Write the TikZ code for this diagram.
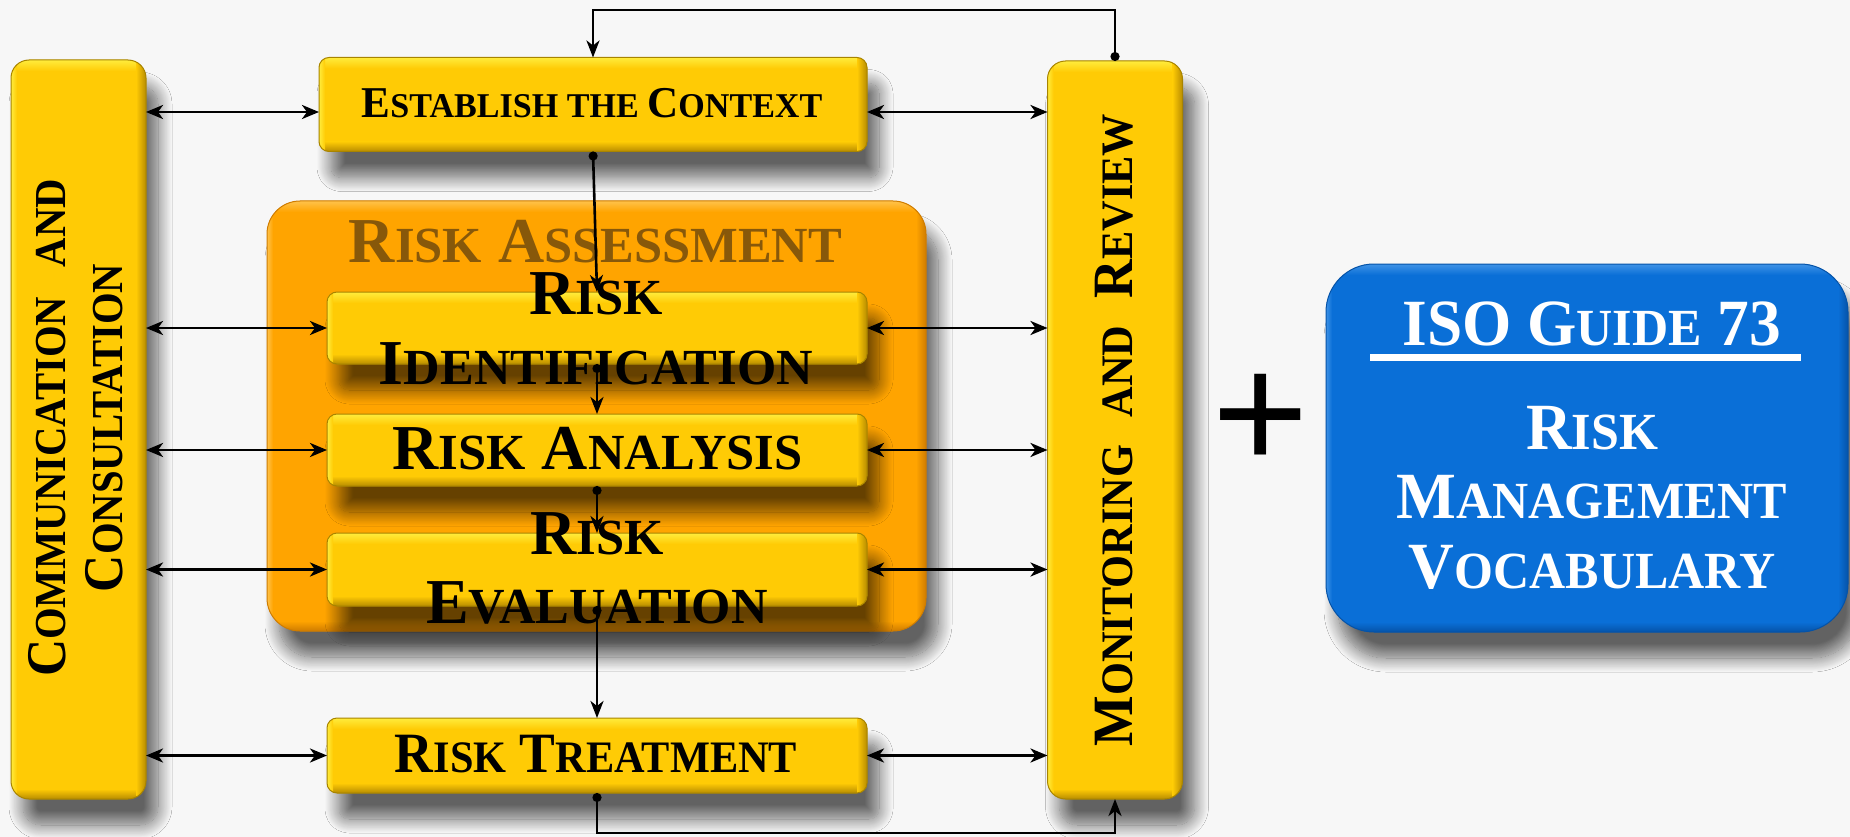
\documentclass[tikz,border=0pt]{standalone}
\usepackage{fontspec}
\setmainfont{Liberation Serif}
\newfontfamily\plusfont{Liberation Sans}
\usepackage{graphicx}
\usetikzlibrary{arrows.meta,calc,shadows.blur}
\definecolor{bgc}{HTML}{F7F7F7}
\definecolor{gold}{HTML}{FFCB05}
\definecolor{goldhi}{HTML}{FFEC3C}
\definecolor{golddk}{HTML}{B88C00}
\definecolor{goldln}{HTML}{A88400}
\definecolor{orng}{HTML}{FFA400}
\definecolor{orngh}{HTML}{FFC24A}
\definecolor{orngd}{HTML}{CF7C00}
\definecolor{blu}{HTML}{0A6FD7}
\definecolor{bluh}{HTML}{3E92E6}
\definecolor{blud}{HTML}{0553A8}
\definecolor{brn}{HTML}{87580A}
\newcommand{\sk}[1]{\scalebox{0.79}{#1}}
\newcommand{\cx}[2]{\scalebox{#1}[1]{#2}}
\tikzset{
  bevel/.style n args={3}{fill=#1, path picture={
    \coordinate (nw) at (path picture bounding box.north west);
    \coordinate (ne) at (path picture bounding box.north east);
    \coordinate (sw) at (path picture bounding box.south west);
    \coordinate (se) at (path picture bounding box.south east);
    \shade[sharp corners, top color=#2, bottom color=#1] (nw) rectangle ($(ne)+(0pt,-11pt)$);
    \shade[sharp corners, top color=#1, bottom color=#3] ($(sw)+(0pt,10pt)$) rectangle (se);
    \shade[sharp corners, left color=#1, right color=#3] ($(se)+(-10pt,0pt)$) rectangle (ne);
    \shade[sharp corners, left color=#2, right color=#1] (sw) rectangle ($(nw)+(6pt,0pt)$);
  }},
  shd/.style={blur shadow={shadow xshift=12pt, shadow yshift=-26pt, shadow blur radius=14pt, shadow opacity=60, shadow blur steps=20}},
  gbox/.style={shd, bevel={gold}{goldhi}{golddk}, draw=goldln, line width=1pt,
    rounded corners=10pt, inner sep=0pt, outer sep=0pt},
  bar/.style={gbox, rounded corners=18pt, minimum width=135pt},
  stepbox/.style={gbox, minimum width=540pt},
  txt/.style={inner sep=0pt, outer sep=0pt, align=center},
  dar/.style={line width=2.9pt, {Stealth[length=17pt,width=14pt,inset=5pt]}-{Stealth[length=17pt,width=14pt,inset=5pt]}},
  flow/.style={line width=2.6pt, {Circle[length=9pt]}-{Stealth[length=17pt,width=13pt,inset=5pt]}},
}
\begin{document}
\begin{tikzpicture}[x=1pt,y=-1pt]
\fill[bgc] (0,0) rectangle (1850,837);
\useasboundingbox (0,0) rectangle (1850,837);

% boxes
\node[bar, minimum height=739pt] (comm) at (78.5,429.5) {};
\node[bar, minimum height=738pt] (mon) at (1115,430) {};
\node[gbox, minimum width=548pt, minimum height=94pt] (est) at (593,104.5) {};
\node[shd, bevel={orng}{orngh}{orngd}, draw=orngd, line width=1pt, rounded corners=33pt,
      minimum width=659pt, minimum height=430pt, inner sep=0pt, outer sep=0pt] (ra) at (596.5,416) {};
\node[stepbox, minimum height=72pt] (rid) at (597,328) {};
\node[stepbox, minimum height=72pt] (ran) at (597,450) {};
\node[stepbox, minimum height=73pt] (rev) at (597,569.5) {};
\node[stepbox, minimum height=75pt] (rtr) at (597,755.5) {};
\node[shd, bevel={blu}{bluh}{blud}, draw=blud, line width=1pt, rounded corners=48pt,
      minimum width=522pt, minimum height=368pt, inner sep=0pt, outer sep=0pt] (iso) at (1587,448) {};

% texts
\node[txt, font={\fontsize{44}{48}\selectfont\bfseries}] (estt) at (592,103.5)
  {\cx{0.98}{E\sk{STABLISH THE\ }C\sk{ONTEXT}}};
\node[txt, text=brn, font={\fontsize{64}{70}\selectfont\bfseries}] (rat) at (595.5,242)
  {R\sk{ISK} A\sk{SSESSMENT}};
\node[txt, font={\fontsize{64}{70}\selectfont\bfseries}] (ridt) at (596,329)
  {R\sk{ISK}\\I\sk{DENTIFICATION}};
\node[txt, font={\fontsize{64}{70}\selectfont\bfseries}] (rant) at (597.5,448.5)
  {R\sk{ISK} A\sk{NALYSIS}};
\node[txt, font={\fontsize{64}{69}\selectfont\bfseries}] (revt) at (597,568.5)
  {R\sk{ISK}\\E\sk{VALUATION}};
\node[txt, font={\fontsize{57}{60}\selectfont\bfseries}] (rtrt) at (596,754)
  {\cx{0.94}{R\sk{ISK} T\sk{REATMENT}}};
\node[txt, rotate=90, font={\fontsize{56}{57}\selectfont\bfseries}] (commt) at (76,428)
  {\cx{0.92}{C\sk{OMMUNICATION}\hspace{32pt}\sk{AND}}\\\cx{0.92}{C\sk{ONSULTATION}}};
\node[txt, rotate=90, font={\fontsize{57}{60}\selectfont\bfseries}] (mont) at (1114,430)
  {\cx{0.94}{M\sk{ONITORING}\hspace{29pt}\sk{AND}\hspace{29pt}R\sk{EVIEW}}};
\node[txt, anchor=base, font={\fontsize{165}{165}\selectfont\plusfont}] (plus) at (1261,469) {+};
\node[txt, text=white, font={\fontsize{66}{70}\selectfont\bfseries}] (isot) at (1591.7,324)
  {\cx{0.96}{ISO G\sk{UIDE} 73}};
\draw[white, line width=7pt] ($(iso.north)+(-217,93)$) -- ($(iso.north)+(214,93)$);
\node[txt, text=white, font={\fontsize{66}{69.5}\selectfont\bfseries}] (isob) at (1592,497.5)
  {\cx{0.96}{R\sk{ISK}}\\\cx{0.96}{M\sk{ANAGEMENT}}\\\cx{0.96}{V\sk{OCABULARY}}};

% horizontal connectors
\coordinate (estL) at ($(est.west)+(0,7.5)$);
\coordinate (estR) at ($(est.east)+(0,7.5)$);
\draw[dar] (comm.east |- estL) -- (estL);
\draw[dar] (estR) -- (mon.west |- estR);
\foreach \b in {rid,ran,rev,rtr}{
  \draw[dar] (comm.east |- \b.west) -- (\b.west);
  \draw[dar] (\b.east) -- (mon.west |- \b.east);
}
% vertical flow
\draw[flow] (est.south) -- (rid.north);
\draw[flow] (rid.south) -- (ran.north);
\draw[flow] (ran.south) -- (rev.north);
\draw[flow] (rev.south) -- (rtr.north);
\draw[flow] (rtr.south) -- ++(0,40) -| (mon.south);
\draw[flow] (mon.north) -- ++(0,-51) -| (est.north);
\end{tikzpicture}
\end{document}
